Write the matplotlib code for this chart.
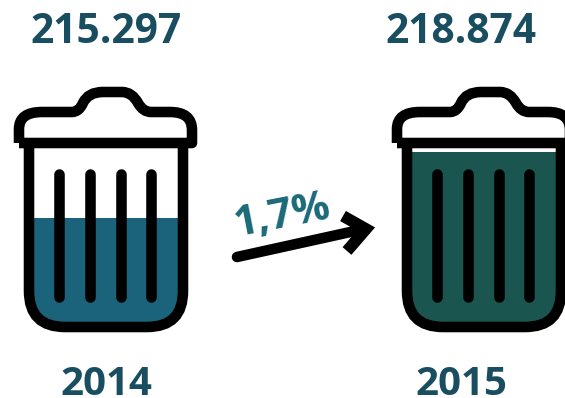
import matplotlib
matplotlib.use("Agg")
import matplotlib.pyplot as plt
from matplotlib.path import Path
from matplotlib.patches import PathPatch

years = ["2014", "2015"]
totals = [215297, 218874]
change_pct = 1.7
fill_levels = [0.61, 0.98]
fill_colors = ["#1b637b", "#1a564f"]
total_color = "#194d60"
year_color = "#194d60"
change_color = "#1b6a78"
INK = "#000000"


def dotted(n):
    return f"{n:,}".replace(",", ".")


def rounded_body(x0):
    left, right, top, bottom, r = x0 + 29, x0 + 183, 143, 327, 36
    return Path(
        [(left, top), (left, bottom - r), (left, bottom), (left + r, bottom),
         (right - r, bottom), (right, bottom), (right, bottom - r), (right, top)],
        [Path.MOVETO, Path.LINETO, Path.CURVE3, Path.CURVE3,
         Path.LINETO, Path.CURVE3, Path.CURVE3, Path.LINETO],
    )


def lid(x0):
    pts = [
        (19, 143), (19, 129), (19, 112), (42, 112),
        (72, 112), (79, 112), (83, 103), (88, 92), (103, 92),
        (122, 92), (132, 92), (138, 103), (143, 112), (151, 112),
        (170, 112), (192, 112), (192, 130), (192, 143), (19, 143),
    ]
    codes = [
        Path.MOVETO, Path.LINETO, Path.CURVE3, Path.CURVE3,
        Path.LINETO, Path.CURVE3, Path.CURVE3, Path.CURVE3, Path.CURVE3,
        Path.LINETO, Path.CURVE3, Path.CURVE3, Path.CURVE3, Path.CURVE3,
        Path.LINETO, Path.CURVE3, Path.CURVE3, Path.LINETO, Path.LINETO,
    ]
    return Path([(x + x0, y) for x, y in pts], codes)


def draw_bin(ax, x0, level, color):
    # liquid level rises from the bottom of the can, clipped to its rounded outline
    body = rounded_body(x0)
    span = 327 - 148
    clip = PathPatch(body, transform=ax.transData, facecolor="none", edgecolor="none")
    ax.add_patch(clip)
    bars = ax.bar(x0 + 106, -level * span, bottom=327, width=160, color=color, zorder=1)
    for b in bars:
        b.set_clip_path(clip)
    ax.add_patch(PathPatch(body, facecolor="none", edgecolor=INK, lw=7.6,
                           capstyle="butt", zorder=2))
    ax.add_patch(PathPatch(lid(x0), facecolor="white", edgecolor=INK, lw=7.6,
                           joinstyle="round", zorder=3))
    for sx in (59, 90, 121, 151):
        ax.plot([x0 + sx, x0 + sx], [174, 297], color=INK, lw=7.6,
                solid_capstyle="round", zorder=2)


fig = plt.figure(figsize=(5.65, 3.98), dpi=100)
ax = fig.add_axes([0, 0, 1, 1])
ax.set_xlim(0, 565)
ax.set_ylim(398, 0)
ax.axis("off")

offsets = [0, 378]
total_x = [106, 461]
year_x = [106, 461]
for off, lvl, col, tot, yr, tx, yx in zip(offsets, fill_levels, fill_colors, totals, years, total_x, year_x):
    draw_bin(ax, off, lvl, col)
    ax.text(tx, 43, dotted(tot), ha="center", va="baseline", family="Open Sans",
            weight="bold", fontsize=29.3, color=total_color)
    ax.text(yx, 395, yr, ha="center", va="baseline", family="Open Sans",
            weight="bold", fontsize=29, color=year_color)

# growth arrow between the two cans
ax.plot([237, 364], [257, 229], color=INK, lw=7.6, solid_capstyle="round", zorder=4)
ax.plot([343, 366, 347], [216, 229, 251], color=INK, lw=8.4,
        solid_joinstyle="miter", solid_capstyle="butt", zorder=4)
ax.text(282, 216, f"{change_pct:.1f}%".replace(".", ","), rotation=11,
        ha="center", va="center", family="Open Sans", weight="bold",
        fontsize=30, color=change_color, rotation_mode="anchor", zorder=5)

fig.savefig("out.png", dpi=100)
